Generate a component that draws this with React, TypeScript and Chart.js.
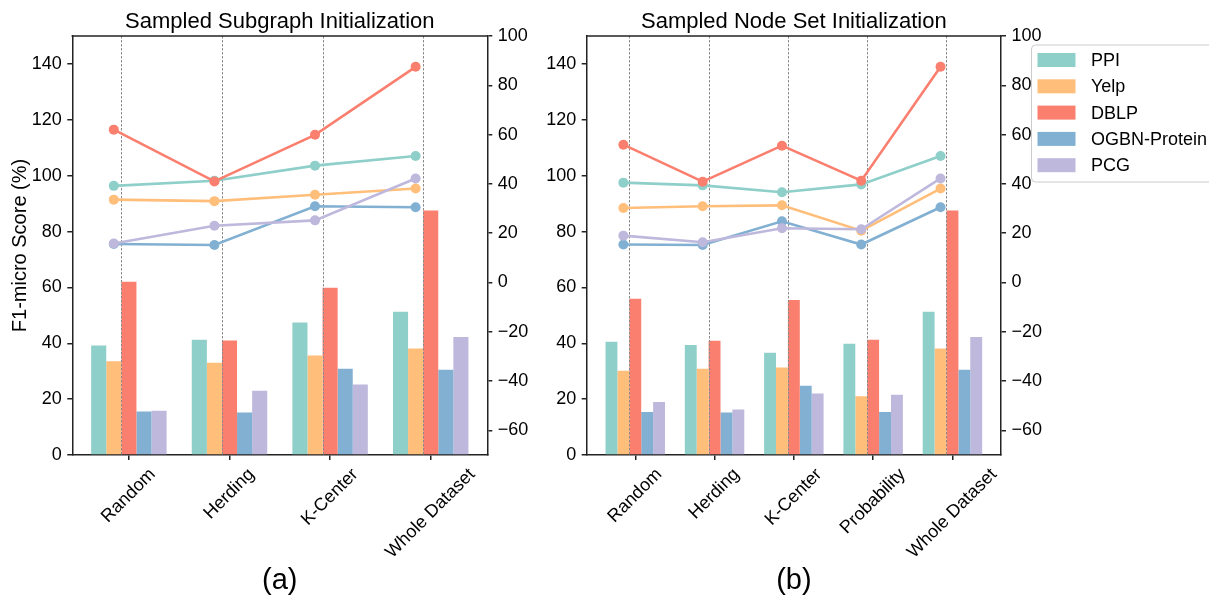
import React, { useEffect, useRef } from "react";
import { Chart, registerables } from "chart.js";

Chart.register(...registerables);

// ---------------- data ----------------
const SERIES_NAMES = ["PPI", "Yelp", "DBLP", "OGBN-Protein", "PCG"];
const SERIES_COLORS = ["#8ECFC9", "#FFBE7A", "#FA7F6F", "#82B0D2", "#BEB8DC"];

const SUBGRAPH_CATEGORIES = ["Random", "Herding", "K-Center", "Whole Dataset"];
const SUBGRAPH_PPI = [39.2, 41.3, 47.4, 51.3];
const SUBGRAPH_YELP = [33.6, 33.0, 35.6, 38.1];
const SUBGRAPH_DBLP = [62.0, 41.0, 59.9, 87.5];
const SUBGRAPH_OGBN = [15.6, 15.2, 30.9, 30.5];
const SUBGRAPH_PCG = [15.8, 23.0, 25.2, 42.2];

const NODESET_CATEGORIES = ["Random", "Herding", "K-Center", "Probability", "Whole Dataset"];
const NODESET_PPI = [40.5, 39.4, 36.6, 39.8, 51.3];
const NODESET_YELP = [30.2, 30.9, 31.3, 21.0, 38.1];
const NODESET_DBLP = [55.9, 40.9, 55.5, 41.3, 87.5];
const NODESET_OGBN = [15.4, 15.2, 24.8, 15.4, 30.5];
const NODESET_PCG = [19.0, 16.3, 22.0, 21.6, 42.2];

const LEFT_TICKS = [0, 20, 40, 60, 80, 100, 120, 140];
const RIGHT_TICKS = [-60, -40, -20, 0, 20, 40, 60, 80, 100];
const LEFT_RANGE = [0, 150];
const RIGHT_RANGE = [-70, 100];

// ---------------- style ----------------
const FONT = '"Liberation Sans", Arial, Helvetica, sans-serif';
const TICK_SIZE = 18;
const AXIS_COLOR = "#222222";
const AXIS_W = 1.5;
const BAR_W = 0.15;

type Panel = {
  categories: string[];
  series: number[][];
  title: string;
  subLabel: string;
  yTitle?: string;
  canvasLeft: number;
  canvasWidth: number;
  canvasHeight: number;
  plotLeft: number;
  plotRight: number;
  plotTop: number;
  plotBottom: number;
  legend: boolean;
};

const fmt = (v: number) => (v < 0 ? "\u2212" + Math.abs(v) : String(v));

function makePlugin(p: Panel) {
  return {
    id: "decor",
    afterDatasetDraw(chart: any, args: any) {
      if (args.index !== 0) return;
      const { ctx, chartArea } = chart;
      const xs = chart.scales.x;
      ctx.save();
      ctx.strokeStyle = "#8a8a8a";
      ctx.lineWidth = 1;
      ctx.setLineDash([2.5, 1.5]);
      p.categories.forEach((_, i) => {
        const px = Math.round(xs.getPixelForValue(i - BAR_W / 2)) + 0.5;
        ctx.beginPath();
        ctx.moveTo(px, chartArea.top);
        ctx.lineTo(px, chartArea.bottom);
        ctx.stroke();
      });
      ctx.restore();
    },
    afterDraw(chart: any) {
      const { ctx, chartArea } = chart;
      const xs = chart.scales.x;
      ctx.save();
      // top spine
      ctx.strokeStyle = AXIS_COLOR;
      ctx.lineWidth = AXIS_W;
      ctx.beginPath();
      ctx.moveTo(chartArea.left - AXIS_W / 2, chartArea.top);
      ctx.lineTo(chartArea.right + AXIS_W / 2, chartArea.top);
      ctx.stroke();

      // rotated x tick labels (centered like matplotlib)
      ctx.fillStyle = "#000";
      ctx.font = `${TICK_SIZE}px ${FONT}`;
      ctx.textAlign = "center";
      ctx.textBaseline = "alphabetic";
      const H = TICK_SIZE * 0.93;
      const top = chartArea.bottom + 11;
      p.categories.forEach((lab, i) => {
        const px = xs.getPixelForValue(i);
        const w = ctx.measureText(lab).width;
        const side = (w + H) * Math.SQRT1_2;
        const cy = top + side / 2;
        ctx.save();
        ctx.translate(px, cy);
        ctx.rotate(-Math.PI / 4);
        ctx.fillText(lab, 0, TICK_SIZE * 0.255);
        ctx.restore();
      });

      // sub label
      ctx.font = `29px ${FONT}`;
      ctx.fillText(p.subLabel, (chartArea.left + chartArea.right) / 2, 589);

      // legend
      if (p.legend) {
        const lx = 1031.5 - p.canvasLeft;
        const ly = 45;
        const lw = 260;
        const lh = 137;
        ctx.beginPath();
        ctx.roundRect(lx, ly, lw, lh, 4);
        ctx.fillStyle = "rgba(255,255,255,0.9)";
        ctx.fill();
        ctx.strokeStyle = "#cccccc";
        ctx.lineWidth = 1;
        ctx.stroke();
        ctx.font = `${TICK_SIZE}px ${FONT}`;
        ctx.textAlign = "left";
        ctx.textBaseline = "middle";
        SERIES_NAMES.forEach((name, k) => {
          const cy = 60 + k * 26.3;
          ctx.fillStyle = SERIES_COLORS[k];
          ctx.fillRect(lx + 6, cy - 7, 38, 14);
          ctx.fillStyle = "#000";
          ctx.fillText(name, 1091 - p.canvasLeft, cy + 1);
        });
      }
      ctx.restore();
    },
  };
}

function makeConfig(p: Panel): any {
  const n = p.categories.length;
  const half = (SERIES_NAMES.length * BAR_W) / 2;
  const margin = 0.05 * (n - 1 + 2 * half);
  const datasets: any[] = [];
  p.series.forEach((vals, k) => {
    datasets.push({
      type: "bar",
      label: SERIES_NAMES[k],
      data: vals.map((v, i) => ({ x: i, y: v })),
      backgroundColor: SERIES_COLORS[k],
      borderWidth: 0,
      xAxisID: "x",
      yAxisID: "y",
      order: 100 + k,
      categoryPercentage: SERIES_NAMES.length * BAR_W,
      barPercentage: 1,
    });
  });
  p.series.forEach((vals, k) => {
    datasets.push({
      type: "line",
      label: SERIES_NAMES[k] + " line",
      data: vals.map((v, i) => ({ x: i - BAR_W, y: v })),
      borderColor: SERIES_COLORS[k],
      backgroundColor: SERIES_COLORS[k],
      pointBackgroundColor: SERIES_COLORS[k],
      pointBorderWidth: 0,
      pointRadius: 5,
      borderWidth: 2.6,
      tension: 0,
      xAxisID: "x",
      yAxisID: "y2",
      order: 50 - k,
    });
  });

  const tickFont = { family: FONT, size: TICK_SIZE };
  const gridCfg = {
    display: true,
    drawOnChartArea: false,
    drawTicks: true,
    tickLength: 5,
    color: AXIS_COLOR,
    tickColor: AXIS_COLOR,
    lineWidth: AXIS_W,
    tickWidth: AXIS_W,
  };
  const border = { display: true, color: AXIS_COLOR, width: AXIS_W };

  return {
    type: "bar",
    data: { datasets },
    options: {
      animation: false,
      responsive: false,
      maintainAspectRatio: false,
      events: [],
      layout: { padding: 0 },
      plugins: {
        legend: { display: false },
        tooltip: { enabled: false },
        title: {
          display: true,
          text: p.title,
          fullSize: false,
          color: "#000",
          font: { family: FONT, size: 22, weight: "normal", lineHeight: 1.2 },
          padding: { top: 8.5, bottom: p.plotTop - 8.5 - 22 * 1.2 },
        },
      },
      scales: {
        x: {
          type: "linear",
          position: "bottom",
          min: -half - margin,
          max: n - 1 + half + margin,
          offset: false,
          grid: { ...gridCfg, offset: false },
          border,
          ticks: { display: false },
          afterBuildTicks: (s: any) => {
            s.ticks = p.categories.map((_, i) => ({ value: i }));
          },
          afterFit: (s: any) => {
            s.height = p.canvasHeight - p.plotBottom;
          },
        },
        y: {
          type: "linear",
          position: "left",
          min: LEFT_RANGE[0],
          max: LEFT_RANGE[1],
          grid: gridCfg,
          border,
          ticks: { font: tickFont, color: "#000", padding: 5.5, callback: (v: any) => fmt(Number(v)) },
          afterBuildTicks: (s: any) => {
            s.ticks = LEFT_TICKS.map((v) => ({ value: v }));
          },
          afterFit: (s: any) => {
            s.width = p.plotLeft;
          },
          title: p.yTitle
            ? {
                display: true,
                text: p.yTitle,
                color: "#000",
                font: { family: FONT, size: 20, lineHeight: 1.2 },
                padding: { top: 8, bottom: 0 },
              }
            : { display: false },
        },
        y2: {
          type: "linear",
          position: "right",
          min: RIGHT_RANGE[0],
          max: RIGHT_RANGE[1],
          grid: gridCfg,
          border,
          ticks: { font: tickFont, color: "#000", padding: 5.5, callback: (v: any) => fmt(Number(v)) },
          afterBuildTicks: (s: any) => {
            s.ticks = RIGHT_TICKS.map((v) => ({ value: v }));
          },
          afterFit: (s: any) => {
            s.width = p.canvasWidth - p.plotRight;
          },
        },
      },
    },
    plugins: [makePlugin(p)],
  };
}

const PANEL_A: Panel = {
  categories: SUBGRAPH_CATEGORIES,
  series: [SUBGRAPH_PPI, SUBGRAPH_YELP, SUBGRAPH_DBLP, SUBGRAPH_OGBN, SUBGRAPH_PCG],
  title: "Sampled Subgraph Initialization",
  subLabel: "(a)",
  yTitle: "F1-micro Score (%)",
  canvasLeft: 0,
  canvasWidth: 560,
  canvasHeight: 598,
  plotLeft: 72.3,
  plotRight: 487.3,
  plotTop: 36,
  plotBottom: 455,
  legend: false,
};

const PANEL_B: Panel = {
  categories: NODESET_CATEGORIES,
  series: [NODESET_PPI, NODESET_YELP, NODESET_DBLP, NODESET_OGBN, NODESET_PCG],
  title: "Sampled Node Set Initialization",
  subLabel: "(b)",
  canvasLeft: 500,
  canvasWidth: 709,
  canvasHeight: 598,
  plotLeft: 86.7,
  plotRight: 501,
  plotTop: 36,
  plotBottom: 455,
  legend: true,
};

function PanelChart({ panel }: { panel: Panel }) {
  const ref = useRef<HTMLCanvasElement | null>(null);
  useEffect(() => {
    if (!ref.current) return;
    const chart = new Chart(ref.current, makeConfig(panel));
    return () => chart.destroy();
  }, [panel]);
  return (
    <canvas
      ref={ref}
      width={panel.canvasWidth}
      height={panel.canvasHeight}
      style={{
        position: "absolute",
        left: panel.canvasLeft,
        top: 0,
        width: panel.canvasWidth,
        height: panel.canvasHeight,
      }}
    />
  );
}

export default function App() {
  return (
    <div
      style={{
        position: "fixed",
        left: 0,
        top: 0,
        width: 1209,
        height: 598,
        background: "#fff",
        overflow: "hidden",
      }}
    >
      <PanelChart panel={PANEL_A} />
      <PanelChart panel={PANEL_B} />
    </div>
  );
}
